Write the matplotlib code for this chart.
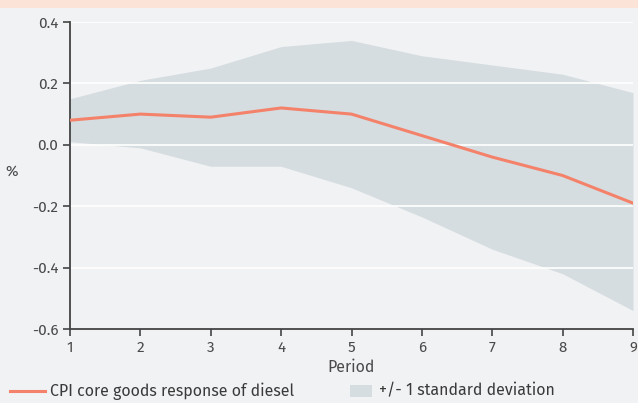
import numpy as np
import matplotlib.pyplot as plt
from matplotlib.patches import Rectangle
from matplotlib.lines import Line2D

periods = [1, 2, 3, 4, 5, 6, 7, 8, 9]
response = [0.08, 0.10, 0.09, 0.12, 0.10, 0.03, -0.04, -0.10, -0.19]
upper = [0.15, 0.21, 0.25, 0.32, 0.34, 0.29, 0.26, 0.23, 0.17]
lower = [0.01, -0.01, -0.07, -0.07, -0.14, -0.235, -0.34, -0.42, -0.54]
yticks = [-0.6, -0.4, -0.2, 0.0, 0.2, 0.4]

BG = "#f1f2f4"
BAND = "#d6dde0"
LINE = "#f4826a"
TXT = "#3a3a3a"

plt.rcParams["font.family"] = ["Fira Sans", "Open Sans", "DejaVu Sans"]
plt.rcParams["axes.unicode_minus"] = False

W, H = 638, 403
fig = plt.figure(figsize=(W / 100, H / 100), dpi=100, facecolor=BG)
ax = fig.add_axes([70 / W, 1 - 329 / H, 563 / W, 307 / H])
ax.set_facecolor(BG)

# top pink strip
fig.patches.append(Rectangle((0, 1 - 8 / H), 1, 8 / H, transform=fig.transFigure,
                             facecolor="#fce3d8", edgecolor="none"))

ax.fill_between(periods, lower, upper, color=BAND, linewidth=0, zorder=1)
for y in yticks[1:]:
    ax.axhline(y, color="white", linewidth=1.2, zorder=2)
ax.plot(periods, response, color=LINE, linewidth=2.2, zorder=3)

ax.set_xlim(1, 9)
ax.set_ylim(-0.6, 0.4)
ax.set_xticks(periods)
ax.set_yticks(yticks)
ax.set_yticklabels([f"{v:.1f}" for v in yticks])
for s in ["top", "right"]:
    ax.spines[s].set_visible(False)
for s in ["left", "bottom"]:
    ax.spines[s].set_color("#444444")
    ax.spines[s].set_linewidth(1.3)
ax.tick_params(colors="#444444", labelcolor="#4a4a4a", labelsize=11, length=5, width=1.2)

ax.set_xlabel("Period", color="#4a4a4a", fontsize=11.5, labelpad=3)
fig.text(12 / W, 1 - 172 / H, "%", color="#4a4a4a", fontsize=11, ha="center", va="center")

# legend drawn by hand to match handle sizes
ly = 1 - 391 / H
fig.add_artist(Line2D([10 / W, 45 / W], [ly, ly], color=LINE, linewidth=2.2,
                      transform=fig.transFigure))
fig.text(50 / W, ly, "CPI core goods response of diesel", color=TXT, fontsize=11.5,
         va="center", ha="left")
fig.patches.append(Rectangle((350 / W, ly - 6 / H), 22 / W, 12 / H, transform=fig.transFigure,
                             facecolor=BAND, edgecolor="none"))
fig.text(379 / W, ly, "+/- 1 standard deviation", color=TXT, fontsize=11.5,
         va="center", ha="left")

fig.savefig("out.png", dpi=100, facecolor=BG)
